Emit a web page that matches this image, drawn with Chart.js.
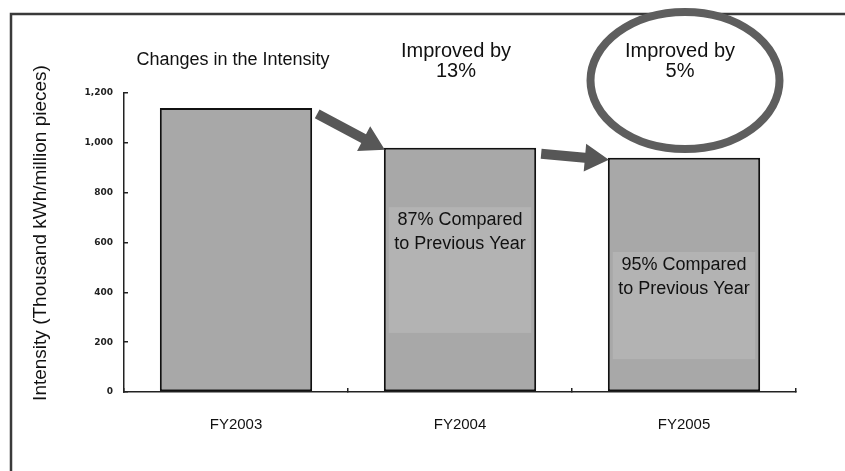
<!DOCTYPE html>
<html>
<head>
<meta charset="utf-8">
<script src="https://cdn.jsdelivr.net/npm/chart.js@4/dist/chart.umd.min.js"></script>
<style>
  html, body { margin: 0; padding: 0; background: #ffffff; }
  #wrap { width: 845px; height: 471px; }
</style>
</head>
<body>
<div id="wrap"><canvas id="c" width="845" height="471"></canvas></div>
<script>
// Energy intensity per fiscal year (thousand kWh per million pieces)
const categories = ['FY2003', 'FY2004', 'FY2005'];
const intensity = [1140, 980, 940];
const yTickValues = [0, 200, 400, 600, 800, 1000, 1200];

// Text shown on the chart
const chartCaption = 'Changes in the Intensity';
const yAxisTitle = 'Intensity (Thousand kWh/million pieces)';
const improvementLabels = [null, ['Improved by', '13%'], ['Improved by', '5%']];
const ratioLabels = [null, ['87% Compared', 'to Previous Year'], ['95% Compared', 'to Previous Year']];

const FONT = '"Liberation Sans", Arial, sans-serif';

// Callouts: caption, year-on-year arrows, ratio notes, highlight ring
const annotations = {
  id: 'annotations',
  beforeDraw(chart) {
    const ctx = chart.ctx;
    ctx.save();
    ctx.fillStyle = '#ffffff';
    ctx.fillRect(0, 0, chart.width, chart.height);
    // outer frame (top and left edges)
    ctx.strokeStyle = '#3a3a3a';
    ctx.lineWidth = 2.5;
    ctx.beginPath();
    ctx.moveTo(11, chart.height);
    ctx.lineTo(11, 14);
    ctx.lineTo(chart.width, 14);
    ctx.stroke();
    // rotated y-axis title
    ctx.translate(41, 233);
    ctx.rotate(-Math.PI / 2);
    ctx.fillStyle = '#111';
    ctx.font = '19px ' + FONT;
    ctx.textAlign = 'center';
    ctx.textBaseline = 'middle';
    ctx.fillText(yAxisTitle, 0, 0);
    ctx.restore();
  },
  afterDatasetsDraw(chart, args, opts) {
    const ctx = chart.ctx;
    const y = chart.scales.y;
    const bars = chart.getDatasetMeta(0).data;
    ctx.save();

    // ratio notes inside the bars, on a lighter panel
    ratioLabels.forEach((lines, i) => {
      if (!lines) return;
      const b = bars[i];
      const band = opts.noteBands[i];
      const half = b.width / 2 - 5;
      const top = y.getPixelForValue(band[1]);
      const bottom = y.getPixelForValue(band[0]);
      ctx.fillStyle = '#b3b3b3';
      ctx.fillRect(b.x - half, top, half * 2, bottom - top);
      ctx.fillStyle = '#111';
      ctx.font = '18px ' + FONT;
      ctx.textAlign = 'center';
      ctx.textBaseline = 'middle';
      lines.forEach((t, k) => ctx.fillText(t, b.x, top + 13 + k * 24));
    });

    // arrows from each bar top to the next one
    ctx.fillStyle = '#575757';
    for (let i = 0; i < bars.length - 1; i++) {
      const a = bars[i], n = bars[i + 1];
      const x0 = a.x + a.width / 2 + 5, y0 = a.y + 6;
      const x1 = n.x - n.width / 2 + 1, y1 = n.y + 2;
      const ang = Math.atan2(y1 - y0, x1 - x0);
      const len = Math.hypot(x1 - x0, y1 - y0);
      const headLen = 24, headHalf = 14, shaftHalf = 5;
      ctx.save();
      ctx.translate(x0, y0);
      ctx.rotate(ang);
      ctx.beginPath();
      ctx.moveTo(0, -shaftHalf);
      ctx.lineTo(len - headLen, -shaftHalf);
      ctx.lineTo(len - headLen, -headHalf);
      ctx.lineTo(len, 0);
      ctx.lineTo(len - headLen, headHalf);
      ctx.lineTo(len - headLen, shaftHalf);
      ctx.lineTo(0, shaftHalf);
      ctx.closePath();
      ctx.fill();
      ctx.restore();
    }

    // caption over the first bar
    ctx.fillStyle = '#111';
    ctx.textAlign = 'center';
    ctx.textBaseline = 'middle';
    ctx.font = '18px ' + FONT;
    ctx.fillText(chartCaption, bars[0].x - 3, 60);

    // improvement labels above later bars
    ctx.font = '20px ' + FONT;
    improvementLabels.forEach((lines, i) => {
      if (!lines) return;
      lines.forEach((t, k) => ctx.fillText(t, bars[i].x - 4, 51 + k * 20));
    });

    // highlight ring around the latest improvement
    const last = bars[bars.length - 1];
    ctx.strokeStyle = '#5e5e5e';
    ctx.lineWidth = 8;
    ctx.beginPath();
    ctx.ellipse(last.x + 1, 80.5, 94.5, 68.5, 0, 0, Math.PI * 2);
    ctx.stroke();
    ctx.restore();
  }
};

new Chart(document.getElementById('c'), {
  type: 'bar',
  data: {
    labels: categories,
    datasets: [{
      data: intensity,
      backgroundColor: '#a8a8a8',
      borderColor: '#111111',
      borderWidth: 2,
      borderSkipped: false,
      categoryPercentage: 1,
      barPercentage: 0.68
    }]
  },
  options: {
    responsive: false,
    animation: false,
    devicePixelRatio: 1,
    layout: { padding: { left: 0, top: 93, right: 49, bottom: 0 } },
    plugins: {
      legend: { display: false },
      tooltip: { enabled: false },
      annotations: { noteBands: [null, [237, 742], [132, 562]] }
    },
    scales: {
      x: {
        offset: true,
        grid: { display: true, drawOnChartArea: false, offset: true, tickLength: -4, color: '#222', lineWidth: 1.5 },
        border: { display: true, color: '#222', width: 1.5 },
        ticks: { color: '#111', font: { family: FONT, size: 15 }, padding: 28, maxRotation: 0 },
        afterFit(scale) { scale.height = 79; }
      },
      y: {
        min: 0,
        max: 1200,
        afterBuildTicks(scale) { scale.ticks = yTickValues.map(v => ({ value: v })); },
        grid: { display: true, drawOnChartArea: false, tickLength: -4, color: '#222', lineWidth: 1.5 },
        border: { display: true, color: '#222', width: 1.5 },
        ticks: {
          color: '#222',
          font: { family: '"DejaVu Sans"', size: 9, weight: 'bold' },
          padding: 15,
          callback: v => v.toLocaleString('en-US')
        },
        afterFit(scale) { scale.width = 124; }
      }
    }
  },
  plugins: [annotations]
});
</script>
</body>
</html>
